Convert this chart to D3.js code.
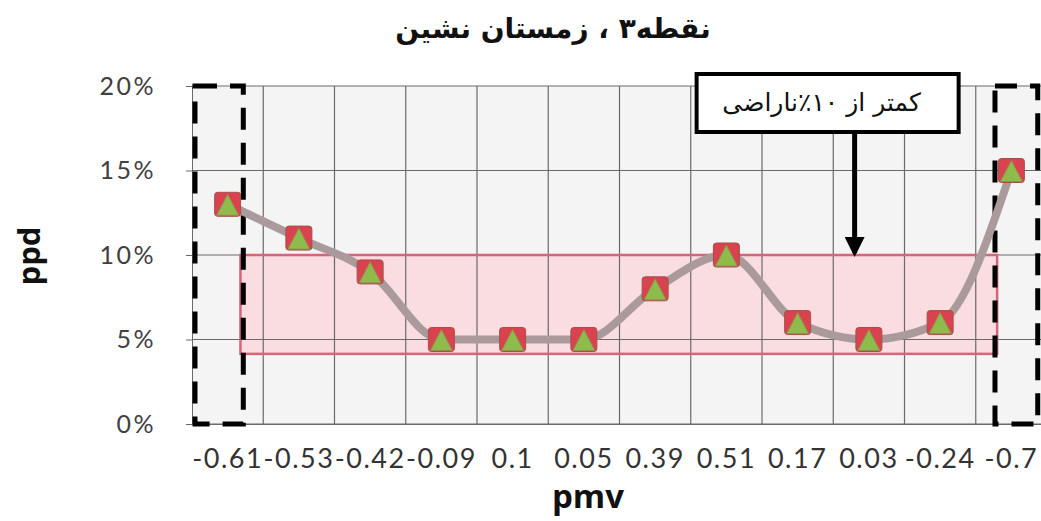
<!DOCTYPE html>
<html>
<head>
<meta charset="utf-8">
<script src="https://cdn.jsdelivr.net/npm/d3@7"></script>
<style>
  body { margin: 0; background: #fff; }
  svg { display: block; }
</style>
</head>
<body>
<div id="chart"></div>
<script>
// pmv values shown on the x axis, ppd (%) on the y axis
var pmvLabels = [ '-0.61', '-0.53', '-0.42', '-0.09', '0.1', '0.05', '0.39', '0.51', '0.17', '0.03', '-0.24', '-0.7' ];
var ppdValues = [ 13, 11, 9, 5, 5, 5, 8, 10, 6, 5, 6, 15 ];
var yTicks = [ 0, 5, 10, 15, 20 ];
var comfortBand = [ 4.15, 10 ];   // pink "less than 10% dissatisfied" zone
var titleText = 'نقطه۳ ، زمستان نشین';
var noteText = 'کمتر از ۱۰٪ناراضی';

var width = 1041, height = 521;
var margin = { top: 86, right: -6, bottom: 97, left: 192 };
var iWidth = width - margin.left - margin.right,
  iHeight = height - margin.top - margin.bottom;

var svg = d3.select( '#chart' ).append( 'svg' )
  .attr( 'width', width )
  .attr( 'height', height );

var xScale = d3.scaleBand()
  .domain( d3.range( pmvLabels.length ) )
  .range( [ 0, iWidth ] );

var yScale = d3.scaleLinear()
  .domain( [ 0, 20 ] )
  .range( [ iHeight, 0 ] );

var g = svg.append( 'g' )
  .attr( 'transform', 'translate(' + margin.left + ',' + margin.top + ')' );

// plot background
g.append( 'rect' )
  .attr( 'width', iWidth )
  .attr( 'height', iHeight )
  .attr( 'fill', '#f4f4f4' );

// pink comfort band (drawn under grid)
var last = pmvLabels.length - 1;
var bandX0 = xScale( 0 ) + xScale.bandwidth() * 0.68,
  bandX1 = xScale( last ) + xScale.bandwidth() * 0.3;
g.append( 'rect' )
  .attr( 'x', bandX0 )
  .attr( 'y', yScale( comfortBand[ 1 ] ) )
  .attr( 'width', bandX1 - bandX0 )
  .attr( 'height', yScale( comfortBand[ 0 ] ) - yScale( comfortBand[ 1 ] ) )
  .attr( 'fill', '#f9dde1' );

// grid lines
g.selectAll( '.hgrid' )
  .data( yTicks )
  .enter()
  .append( 'line' )
    .attr( 'x1', 0 )
    .attr( 'x2', iWidth )
    .attr( 'y1', d => yScale( d ) )
    .attr( 'y2', d => yScale( d ) )
    .attr( 'stroke', '#6a6a6a' )
    .attr( 'stroke-width', 1.2 );

g.selectAll( '.vgrid' )
  .data( d3.range( 1, pmvLabels.length ) )
  .enter()
  .append( 'line' )
    .attr( 'x1', d => xScale( d ) )
    .attr( 'x2', d => xScale( d ) )
    .attr( 'y1', 0 )
    .attr( 'y2', iHeight )
    .attr( 'stroke', '#6a6a6a' )
    .attr( 'stroke-width', 1.2 );

// band outline
g.append( 'rect' )
  .attr( 'x', bandX0 )
  .attr( 'y', yScale( comfortBand[ 1 ] ) )
  .attr( 'width', bandX1 - bandX0 )
  .attr( 'height', yScale( comfortBand[ 0 ] ) - yScale( comfortBand[ 1 ] ) )
  .attr( 'fill', 'none' )
  .attr( 'stroke', '#d8647c' )
  .attr( 'stroke-width', 2.5 );

// y axis ticks + labels
var yAxis = d3.axisLeft( yScale )
  .tickValues( yTicks )
  .tickSize( 6 )
  .tickPadding( 30 )
  .tickFormat( d => d + '%' );

var yAxisG = g.append( 'g' ).call( yAxis );
yAxisG.select( '.domain' ).attr( 'stroke', '#6a6a6a' );
yAxisG.selectAll( '.tick line' ).attr( 'stroke', '#6a6a6a' );
yAxisG.selectAll( 'text' )
  .attr( 'font-family', 'Lato, "Open Sans", sans-serif' )
  .attr( 'font-size', 25 )
  .attr( 'letter-spacing', 2.5 )
  .attr( 'fill', '#404040' );

// x axis labels
var xAxis = d3.axisBottom( xScale )
  .tickSize( 0 )
  .tickPadding( 25 )
  .tickFormat( i => pmvLabels[ i ] );

var xAxisG = g.append( 'g' )
  .attr( 'transform', 'translate(0,' + iHeight + ')' )
  .call( xAxis );
xAxisG.select( '.domain' ).attr( 'stroke', '#6a6a6a' ).attr( 'stroke-width', 1.2 );
xAxisG.selectAll( 'text' )
  .attr( 'font-family', 'Lato, "Open Sans", sans-serif' )
  .attr( 'font-size', 27 )
  .attr( 'letter-spacing', 1.5 )
  .attr( 'fill', '#333' );

// dashed boxes around the out-of-range points
var boxes = [
  { x0: xScale( 0 ) + 3, x1: xScale( 0 ) + xScale.bandwidth() * 0.72 },
  { x0: xScale( last ) + xScale.bandwidth() * 0.27, x1: xScale( last ) + xScale.bandwidth() * 0.87 }
];
g.selectAll( '.dashbox' )
  .data( boxes )
  .enter()
  .append( 'rect' )
    .attr( 'class', 'dashbox' )
    .attr( 'x', d => d.x0 )
    .attr( 'y', yScale( 20 ) )
    .attr( 'width', d => d.x1 - d.x0 )
    .attr( 'height', iHeight )
    .attr( 'fill', 'none' )
    .attr( 'stroke', '#000' )
    .attr( 'stroke-width', 5 )
    .attr( 'stroke-dasharray', '22 13' );

// smoothed line
var line = d3.line()
  .x( ( d, i ) => xScale( i ) + xScale.bandwidth() / 2 )
  .y( d => yScale( d ) )
  .curve( d3.curveMonotoneX );

g.append( 'path' )
  .datum( ppdValues )
  .attr( 'd', line )
  .attr( 'fill', 'none' )
  .attr( 'stroke', '#ab9a9c' )
  .attr( 'stroke-width', 8 )
  .attr( 'stroke-linejoin', 'round' );

// markers: red square with green triangle
var markers = g.selectAll( '.marker' )
  .data( ppdValues )
  .enter()
  .append( 'g' )
    .attr( 'transform', ( d, i ) => 'translate(' + ( xScale( i ) + xScale.bandwidth() / 2 ) + ',' + yScale( d ) + ')' );

markers.append( 'rect' )
  .attr( 'x', -13 )
  .attr( 'y', -12 )
  .attr( 'width', 26 )
  .attr( 'height', 24 )
  .attr( 'rx', 3 )
  .attr( 'fill', '#d8434f' )
  .attr( 'stroke', '#a4504a' )
  .attr( 'stroke-width', 1 );

markers.append( 'path' )
  .attr( 'd', 'M0,-10 L11,11 L-11,11 Z' )
  .attr( 'fill', '#8dbb4c' )
  .attr( 'stroke', '#9a8a4c' )
  .attr( 'stroke-width', 1 );

// annotation box + arrow
var arrowX = xScale( 9 ) + xScale.bandwidth() * 0.3;
svg.append( 'defs' ).append( 'marker' )
  .attr( 'id', 'arrow' )
  .attr( 'viewBox', '0 0 10 10' )
  .attr( 'refX', 8 )
  .attr( 'refY', 5 )
  .attr( 'markerWidth', 4 )
  .attr( 'markerHeight', 4 )
  .attr( 'orient', 'auto' )
  .append( 'path' )
    .attr( 'd', 'M0,0 L10,5 L0,10 Z' )
    .attr( 'fill', '#000' );

g.append( 'line' )
  .attr( 'x1', arrowX )
  .attr( 'x2', arrowX )
  .attr( 'y1', yScale( 20 ) + 46 )
  .attr( 'y2', yScale( comfortBand[ 1 ] ) - 2 )
  .attr( 'stroke', '#000' )
  .attr( 'stroke-width', 5 )
  .attr( 'marker-end', 'url(#arrow)' );

var noteG = g.append( 'g' );
noteG.append( 'rect' )
  .attr( 'x', arrowX - 158 )
  .attr( 'y', -12 )
  .attr( 'width', 262 )
  .attr( 'height', 58 )
  .attr( 'fill', '#fff' )
  .attr( 'stroke', '#000' )
  .attr( 'stroke-width', 4 );
noteG.append( 'text' )
  .attr( 'x', arrowX - 33 )
  .attr( 'y', 25 )
  .attr( 'text-anchor', 'middle' )
  .attr( 'direction', 'rtl' )
  .attr( 'font-family', '"DejaVu Sans", sans-serif' )
  .attr( 'font-size', 25 )
  .attr( 'fill', '#111' )
  .text( noteText );

// title and axis titles
svg.append( 'text' )
  .attr( 'x', 553 )
  .attr( 'y', 38 )
  .attr( 'text-anchor', 'middle' )
  .attr( 'direction', 'rtl' )
  .attr( 'font-family', '"DejaVu Sans", sans-serif' )
  .attr( 'font-weight', 'bold' )
  .attr( 'font-size', 28 )
  .attr( 'fill', '#111' )
  .text( titleText );

svg.append( 'text' )
  .attr( 'x', 588 )
  .attr( 'y', 508 )
  .attr( 'text-anchor', 'middle' )
  .attr( 'font-family', '"Open Sans", sans-serif' )
  .attr( 'font-weight', 'bold' )
  .attr( 'font-size', 33 )
  .attr( 'fill', '#111' )
  .text( 'pmv' );

svg.append( 'text' )
  .attr( 'transform', 'translate(40,256) rotate(-90)' )
  .attr( 'text-anchor', 'middle' )
  .attr( 'font-family', '"Open Sans", sans-serif' )
  .attr( 'font-weight', 'bold' )
  .attr( 'font-size', 31 )
  .attr( 'fill', '#111' )
  .text( 'ppd' );
</script>
</body>
</html>
